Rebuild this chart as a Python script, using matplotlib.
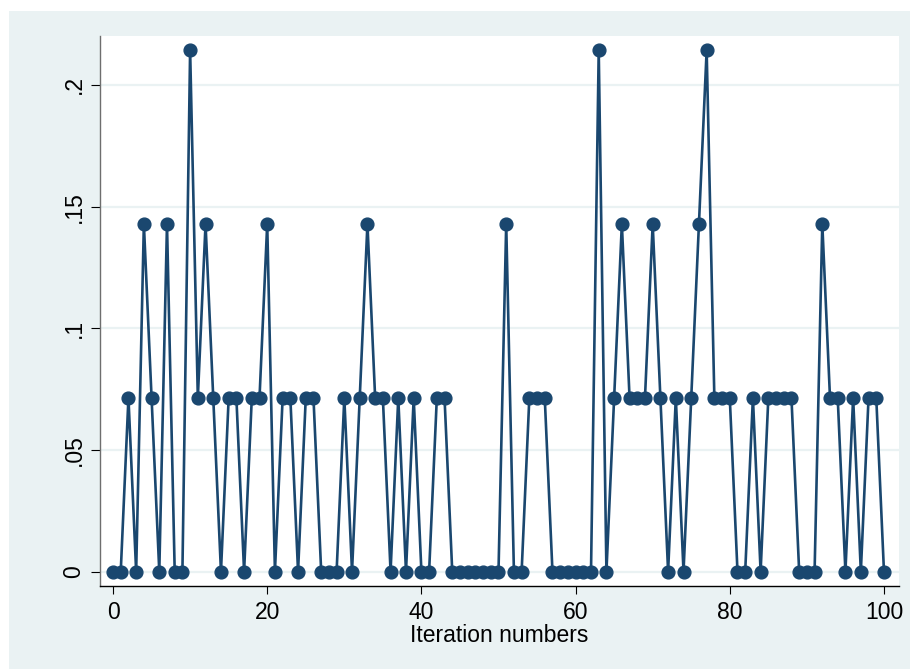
import matplotlib
matplotlib.use("Agg")
import matplotlib.pyplot as plt
from matplotlib.patches import Rectangle

plt.rcParams['font.family'] = ['Liberation Sans', 'DejaVu Sans']

# Share value recorded at each iteration
iterations = list(range(0, 101))
share = [
    0, 0, .0714, 0, .1429, .0714, 0, .1429, 0, 0,                 # 0-9
    .2143, .0714, .1429, .0714, 0, .0714, .0714, 0, .0714, .0714,  # 10-19
    .1429, 0, .0714, .0714, 0, .0714, .0714, 0, 0, 0,              # 20-29
    .0714, 0, .0714, .1429, .0714, .0714, 0, .0714, 0, .0714,      # 30-39
    0, 0, .0714, .0714, 0, 0, 0, 0, 0, 0,                          # 40-49
    0, .1429, 0, 0, .0714, .0714, .0714, 0, 0, 0,                  # 50-59
    0, 0, 0, .2143, 0, .0714, .1429, .0714, .0714, .0714,          # 60-69
    .1429, .0714, 0, .0714, 0, .0714, .1429, .2143, .0714, .0714,  # 70-79
    .0714, 0, 0, .0714, 0, .0714, .0714, .0714, .0714, 0,          # 80-89
    0, 0, .1429, .0714, .0714, 0, .0714, 0, .0714, .0714,          # 90-99
    0,                                                             # 100
]

x_ticks = [0, 20, 40, 60, 80, 100]
y_ticks = [0, .05, .1, .15, .2]
y_tick_labels = ["0", ".05", ".1", ".15", ".2"]

navy = "#1A476F"
panel = "#EAF2F3"

fig = plt.figure(figsize=(9.10, 6.69), dpi=100)
fig.patch.set_facecolor("white")
# shaded graph region behind the plot area
fig.add_artist(Rectangle((9 / 910, 0), 1 - 9 / 910, 1 - 11 / 669,
                         transform=fig.transFigure, facecolor=panel,
                         edgecolor="none", zorder=-10))

ax = fig.add_axes([100 / 910, 1 - 586 / 669, 799 / 910, 550 / 669])
ax.set_facecolor("white")

ax.plot(iterations, share, color=navy, linewidth=1.9, marker="o",
        markersize=9.2, markerfacecolor=navy, markeredgecolor=navy,
        zorder=3, clip_on=False)

ax.set_xlim(-1.69, 101.95)
ax.set_ylim(-0.0059, 0.2201)

ax.set_xticks(x_ticks)
ax.set_xticklabels([str(t) for t in x_ticks])
ax.set_yticks(y_ticks)
ax.set_yticklabels(y_tick_labels, rotation=90, va="center")

ax.grid(axis="y", color=panel, linewidth=1.6, zorder=1)
ax.grid(axis="x", visible=False)
ax.set_axisbelow(True)

for side in ("top", "right"):
    ax.spines[side].set_visible(False)
ax.spines["left"].set_color("#6E6E6E")
ax.spines["left"].set_linewidth(1.0)
ax.spines["bottom"].set_color("#000000")
ax.spines["bottom"].set_linewidth(1.0)

ax.tick_params(axis="x", direction="out", length=6, width=0.8,
               color="#000000", labelsize=16.5, pad=5)
ax.tick_params(axis="y", direction="out", length=6.5, width=0.8,
               color="#000000", labelsize=16.5, pad=4)

ax.set_xlabel("Iteration numbers", fontsize=16.5, labelpad=0)

fig.savefig("out.png", dpi=100, facecolor=fig.get_facecolor())
